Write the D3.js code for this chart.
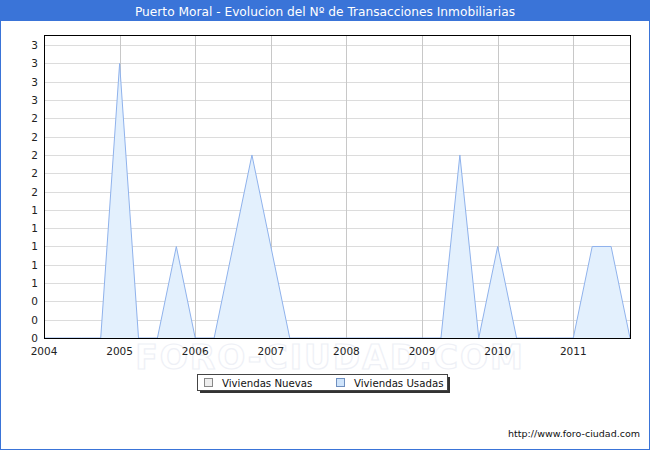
<!DOCTYPE html>
<html><head><meta charset="utf-8">
<script src="https://cdn.jsdelivr.net/npm/d3@7"></script>
<style>body{margin:0;background:#fff}svg{display:block;font-family:"DejaVu Sans",Verdana,sans-serif}</style>
</head><body><svg id="c" width="650" height="450"></svg>
<script>
const title = "Puerto Moral - Evolucion del Nº de Transacciones Inmobiliarias";
const years = [2004, 2005, 2006, 2007, 2008, 2009, 2010, 2011];
// quarterly data, index 0 = 2004 Q1 ... index 31 = 2011 Q4
const quarters = d3.range(32);
const nuevas = [0,0,0,0, 0,0,0,0, 0,0,0,0, 0,0,0,0, 0,0,0,0, 0,0,0,0, 0,0,0,0, 0,0,0,0];
const usadas = [0,0,0,0, 3,0,0,1, 0,0,1,2, 1,0,0,0, 0,0,0,0, 0,0,2,0, 1,0,0,0, 0,1,1,0];
const yTicks = d3.range(0, 3.21, 0.2);
const seriesNames = ["Viviendas Nuevas", "Viviendas Usadas"];

const svg = d3.select("#c");
const W = 650, H = 450;
const m = {l: 44, r: 630, t: 36, b: 338};

svg.append("rect").attr("x",0.5).attr("y",0.5).attr("width",W-1).attr("height",H-1)
  .attr("fill","#fff").attr("stroke","#3a74d8");
svg.append("rect").attr("x",0).attr("y",0).attr("width",W).attr("height",21).attr("fill","#3a74d8");
svg.append("text").attr("x",W/2).attr("y",15.5).attr("text-anchor","middle")
  .attr("fill","#fff").attr("font-size",12.2).text(title);

const x = d3.scaleLinear().domain([0, 31]).range([m.l, m.r]);
const y = d3.scaleLinear().domain([0, 3.3]).range([m.b, m.t]);

// horizontal grid
svg.append("g").selectAll("line").data(yTicks).join("line")
  .attr("x1",m.l).attr("x2",m.r)
  .attr("y1",d=>Math.round(y(d))+0.5).attr("y2",d=>Math.round(y(d))+0.5)
  .attr("stroke","#dcdcdc");
// vertical grid
svg.append("g").selectAll("line").data(years.slice(1)).join("line")
  .attr("x1",d=>Math.round(x((d-2004)*4))+0.5).attr("x2",d=>Math.round(x((d-2004)*4))+0.5)
  .attr("y1",m.t).attr("y2",m.b).attr("stroke","#c8c8c8");

// watermark
svg.append("text").attr("x",330).attr("y",369).attr("text-anchor","middle")
  .attr("font-size",33).attr("font-weight","bold").attr("fill","none")
  .attr("stroke","#eef0f6").attr("stroke-width",1.2).attr("letter-spacing",2).text("FORO-CIUDAD.COM");

const area = arr => d3.area().x((d,i)=>x(i)).y0(y(0)).y1(d=>y(d))(arr);
const line = arr => d3.line().x((d,i)=>x(i)).y(d=>y(d))(arr);

svg.append("path").attr("d",area(usadas)).attr("fill","#e3f0fd");
svg.append("path").attr("d",line(usadas)).attr("fill","none").attr("stroke","#8fb2ec").attr("stroke-width",1);
svg.append("path").attr("d",area(nuevas)).attr("fill","#eeeeee");

// plot border
svg.append("rect").attr("x",m.l+0.5).attr("y",m.t-0.5).attr("width",m.r-m.l).attr("height",m.b-m.t+1)
  .attr("fill","none").attr("stroke","#000");

// y axis labels
svg.append("g").selectAll("text").data(yTicks).join("text")
  .attr("x",38).attr("y",d=>y(d)+4).attr("text-anchor","end").attr("font-size",10.5).attr("fill","#222")
  .text(d=>d3.format(".0f")(d));
// x axis labels
svg.append("g").selectAll("text").data(years).join("text")
  .attr("x",d=>x((d-2004)*4)).attr("y",355).attr("text-anchor","middle").attr("font-size",10.5).attr("fill","#222")
  .text(d=>d);

// legend
const lg = svg.append("g");
lg.append("rect").attr("x",200).attr("y",377).attr("width",250).attr("height",16).attr("fill","#333");
lg.append("rect").attr("x",197.5).attr("y",374.5).attr("width",250).attr("height",16).attr("fill","#fff").attr("stroke","#444");
const lx = [204, 336];
const sq = [{f:"#eeeeee",s:"#888"},{f:"#cfe4fb",s:"#6f8fbf"}];
seriesNames.forEach((n,i)=>{
  lg.append("rect").attr("x",lx[i]+0.5).attr("y",378.5).attr("width",8).attr("height",8).attr("fill",sq[i].f).attr("stroke",sq[i].s);
  lg.append("text").attr("x",lx[i]+18).attr("y",386.5).attr("font-size",10.2).attr("fill","#111").text(n);
});

svg.append("text").attr("x",640).attr("y",437).attr("text-anchor","end").attr("font-size",9.5)
  .attr("fill","#111").text("http://www.foro-ciudad.com");
</script></body></html>
